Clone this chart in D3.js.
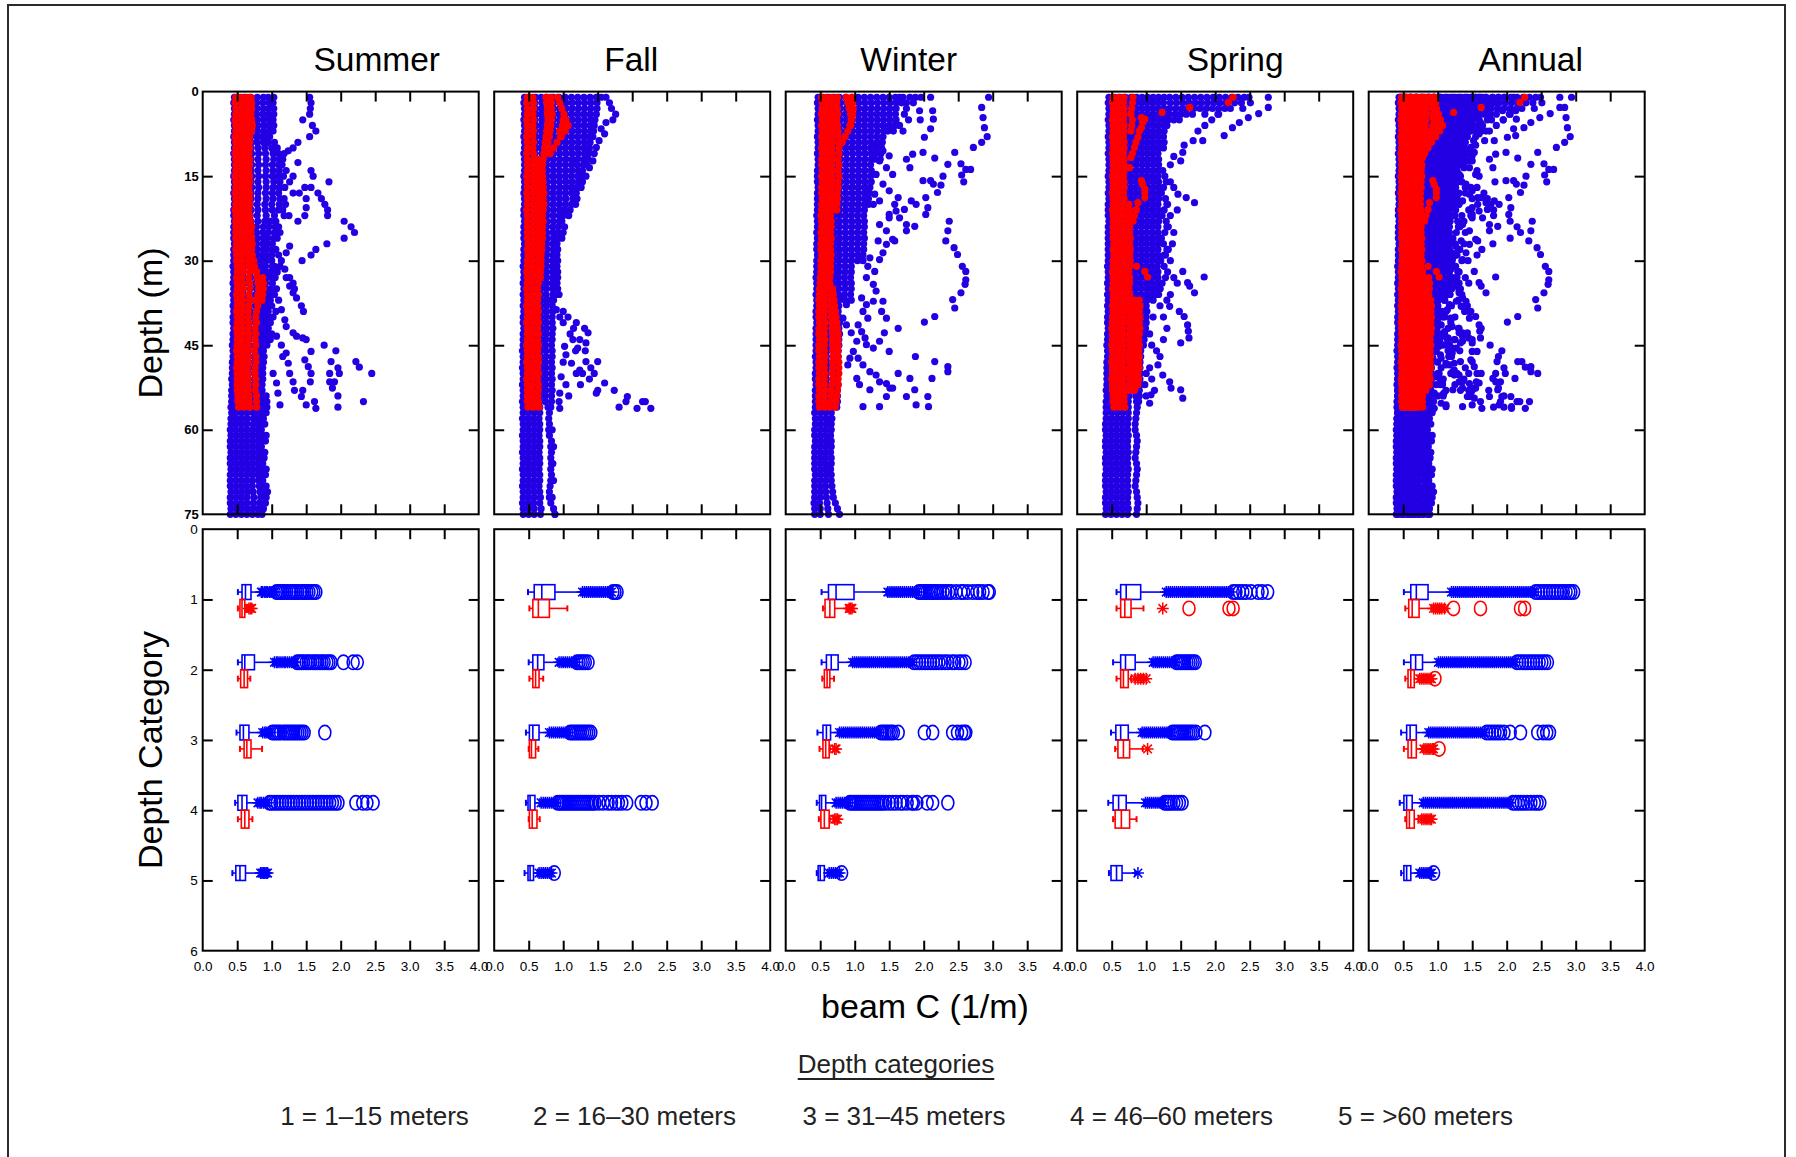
<!DOCTYPE html>
<html>
<head>
<meta charset="utf-8">
<script src="https://cdn.jsdelivr.net/npm/d3@7"></script>
<style>
  body { margin: 0; background: #fff; }
  text { font-family: "Liberation Sans", Arial, Helvetica, sans-serif; }
</style>
</head>
<body>
<svg id="chart" width="1796" height="1157"></svg>
<script>
// ---------------------------------------------------------------
// Labels and ticks
// ---------------------------------------------------------------
const seasons = ["Summer", "Fall", "Winter", "Spring", "Annual"];
const depthTicks = [0, 15, 30, 45, 60, 75];
const categoryTicks = [0, 1, 2, 3, 4, 5, 6];
const beamTicks = [0, 0.5, 1, 1.5, 2, 2.5, 3, 3.5, 4];
const legendItems = ["1 = 1\u201315 meters", "2 = 16\u201330 meters", "3 = 31\u201345 meters",
                     "4 = 46\u201360 meters", "5 = >60 meters"];

// ---------------------------------------------------------------
// Profile casts: [first depth (m), beam C x 100 at each metre below]
// Spots: [depth (m), beam C x 100]
// ---------------------------------------------------------------
const summerBlueCasts = [
  [1, [46,45,46,46,45,46,46,45,46,46,45,46,46,46,45,46,46,45,46,46,45,45,46,45,45,45,46,45,45,45,44,45,45,44,45,44,45,44,45,44,44,45,44,44,43,44,44,43,43,43,42,43,42,42,42,41,42,41,41,40,41,40,40,41,40,40,41,40,40,40,41,40,40,41,40]],
  [1, [52,53,53,52,53,54,53,52,53,53,52,53,53,52,53,52,53,53,52,52,53,52,53,52,52,53,52,53,52,52,52,51,52,52,51,52,52,51,52,51,52,51,51,52,51,50,51,50,51,50,50,50,49,50,49,49,48,49,48,48,49,48,48,49,48,48,49,48,48,48,49,48,48,49,48]],
  [1, [60,61,61,60,61,62,61,60,61,60,61,61,60,61,60,61,61,60,61,60,61,60,61,60,60,61,60,61,60,60,60,59,60,60,59,60,60,59,60,59,60,59,59,60,59,58,59,58,59,58,58,57,57,58,57,57,56,57,56,56,57,56,56,57,56,56,57,56,56,56,57,56,56,57,56]],
  [1, [69,70,70,69,70,71,70,69,70,70,71,70,71,70,71,70,71,70,70,69,70,69,70,69,69,70,69,70,69,69,68,69,69,68,69,68,69,68,69,68,68,67,68,67,67,66,67,66,67,66,66,65,65,66,65,65,64,65,64,64,65,64,64,65,64,64,65,64,64,64,65,64,64,65,64]],
  [1, [79,78,79,78,79,80,79,78,79,80,81,80,81,80,81,80,81,80,80,79,80,79,80,78,78,79,78,79,78,78,77,78,78,77,78,77,78,77,78,76,77,76,76,77,76,75,76,75,76,75,75,74,74,75,74,74,73,74,73,72,73,72,72,73,72,72,73,72,72,72,73,74,73,73,72]],
  [1, [88,87,88,87,88,89,88,86,88,90,91,92,91,92,91,92,92,91,92,90,91,92,90,88,87,88,87,88,86,86,85,86,86,85,86,85,86,84,85,84,84,83,84,83,83,82,83,82,83,82,82,81,81,82,81,81,80,81,80,80,81,80,80,81,80,80,81,80,81,82,83,84,82,81,80]],
  [1, [95,96,96,95,96,97,96,92,95,100,102,103,101,102,101,103,102,101,102,100,101,104,98,96,95,94,93,92,92,92,91,92,93,91,92,92,93,90,91,90,90,89,90,89,88,88,89,88,87,87,87,86,86,87,86,86,85,86,85,85,86,85,85,86,86,87,87,86,87,88,89,92,90,87,86]],
  [1, [103,102,103,103,102,103,102,97,104,108,110,112,110,111,109,112,111,110,112,111,110,118,106,105,104,103,101,100,100,100,101,99,100,101,99,100,98,96,95,96,94,95,95,94,93]]
];
const summerBlueSpots = [[1,155],[2,157],[3,156],[4,155],[5,145],[6,159],[7,164],[8,155],[9,138],[10,131],[10.5,124],[12,116],[12.6,138],[14,121],[14,157],[15,160],[16,183],[15,131],[16,126],[17,119],[17,148],[17,157],[18,131],[18,140],[18,167],[19,172],[20,177],[21,181],[22,181],[19,150],[20.6,150],[22,148],[23,138],[23,205],[24,215],[25,220],[26,205],[27,180],[28,164],[29,157],[30,144],[27.4,126],[28.6,121],[30,114],[31.5,119],[33,126],[34,131],[35,133],[36.6,136],[38,143],[39,146],[31,112],[33,121],[34.5,126],[35.7,131],[37,110],[38.7,114],[40.5,119],[41.7,121],[42,92],[43.4,97],[43.4,107],[42.8,131],[43.4,136],[43.7,145],[44,150],[45,114],[47,116],[46.1,157],[47.6,148],[48.8,153],[50,157],[51.5,156],[53,145],[54.1,143],[55.6,150],[55,162],[56.2,164],[50,102],[51.7,107],[53.5,109],[55.6,112],[46.4,121],[48.2,124],[50,126],[51.5,131],[53,133],[54.7,90],[56.2,88],[57,92],[45,176],[46,193],[47.9,186],[49,196],[50,198],[51.5,191],[52.6,188],[54,196],[56,196],[47.9,222],[48.9,227],[50,245],[55,233],[50,184],[51.5,184],[11,118],[13,115],[15,117],[17,112],[19,118],[20,120],[21,116],[22,125],[24,110],[25,112],[26,108],[28,106],[29,110],[31,104],[32,108],[33,105],[35,107],[36,104],[38,100],[39,106],[40,102],[41,98],[43,100],[44,98],[58,88],[59,90],[61,92],[62,91],[64,90],[65,89],[67,92],[68,91],[70,92],[71,94],[73,91],[74,88],[54,92],[55,93],[56,93]];
const summerRedCasts = [
  [1, [48,47,48,48,47,48,48,47,48,48,47,48,48,48,47,48,48,47,48,48,47,48,48,48,48,48,49,48,49,49,50,50,49,50,50,49,50,50,49,50,50,49,50,50,50,49,50,50,49,50,50,50,50,51,51,52]],
  [1, [55,56,56,55,56,57,56,55,56,56,55,56,56,55,56,56,55,56,56,56,55,56,56,56,55,56,57,56,57,57,58,58,57,58,58,57,58,58,57,57,58,57,58,57,58,57,58,58,57,58,58,58,58,59,59,60]],
  [1, [63,64,64,63,64,65,64,63,62,62,61,62,62,61,62,62,61,62,62,62,61,62,63,64,63,64,65,64,65,66,67,68,67,68,68,67,68,67,66,66,67,66,67,66,66,65,66,66,65,66,66,66,66,67,67,68]],
  [1, [70,71,71,70,71,72,71,68,68,68,67,68,68,67,68,68,67,68,68,68,67,68,69,71,70,71,72,71,72,74,75,78,80,82,84,85,86,80,78,77,78,76,77,76,77,75,77,77,76,76,77,77,76,78,78,78]]
];
const summerRedSpots = [[32,78],[33,79],[34,80],[35,81],[36,80],[37,77],[33,87],[34,88],[35,88],[36,87]];

const fallBlueCasts = [
  [1, [44,43,44,44,43,44,44,43,44,44,43,44,44,44,43,44,44,43,44,44,43,43,44,43,43,43,44,43,43,43,42,43,43,42,43,42,43,42,43,42,42,43,42,42,42,41,42,42,41,42,42,41,42,42,41,42,42,41,42,42,41,42,42,41,42,42,41,42,42,41,42,42,41,42,42]],
  [1, [52,51,52,52,51,52,52,51,52,52,51,52,52,52,51,52,52,51,52,52,51,51,52,51,51,51,52,51,51,51,50,51,51,50,51,50,51,50,51,50,50,51,50,50,50,49,50,50,49,50,50,49,50,50,49,50,50,49,50,50,49,50,50,49,50,50,49,50,50,49,50,50,49,50,50]],
  [1, [60,59,60,60,59,60,60,59,60,60,59,60,60,60,59,60,60,59,60,60,59,59,60,59,59,59,60,59,59,59,58,59,59,58,59,58,59,58,59,58,58,59,58,58,58,57,58,58,57,58,58,57,58,58,57,58,58,57,58,58,57,58,58,57,58,58,57,58,58,57,58,58,57,58,58]],
  [1, [68,69,69,68,69,68,69,68,69,68,69,69,68,69,68,69,69,68,69,68,69,68,69,68,68,69,68,69,68,68,67,68,68,67,68,67,68,67,68,67,67,68,67,67,66,67,67,66,67,66,67,66,67,66,66,66,66,65,66,66,65,66,66,65,66,66,65,66,66,65,66,67,66,68,67]],
  [1, [76,77,77,76,77,76,77,76,77,76,77,77,76,77,76,77,77,76,77,76,77,76,77,76,76,77,76,77,76,76,75,76,76,75,76,75,76,75,76,75,75,76,75,75,74,75,75,74,75,74,75,74,75,74,74,78,80,79,80,79,80,83,82,83,82,83,82,83,82,81,80,80,82,86,88]],
  [1, [85,86,86,85,86,85,86,85,86,85,86,86,85,86,85,86,86,85,86,85,86,85,86,85,85,86,85,86,85,85,84,85,85,84,85,85,86,84,85,84,84,85,84,84,83,84,84,83,84,83,84,83,84,83,83,82]],
  [1, [94,95,95,94,95,94,95,94,95,94,95,95,94,95,94,95,95,94,95,94,95,94,95,93,92,92,91,92,91,92,91,92,92,91,92,92]],
  [1, [103,104,104,103,104,103,104,103,104,103,104,104,103,104,103,104,104,103,104,103,102,100,98]],
  [1, [112,113,113,112,113,112,113,112,113,112,113,113,112,113,112,113,112,112,114,112,110]],
  [1, [121,122,122,121,122,121,122,121,122,121,122,121,120,122,121,122,120,119,118]],
  [1, [130,131,131,130,131,130,131,130,131,130,131,130,129,128,126,124]],
  [1, [139,140,140,139,140,139,140,138,139,138,137,136,134]],
  [1, [148,149,149,148,146,145,144,143]]
];
const fallBlueSpots = [[1,162],[2,167],[3,170],[4,176],[5,172],[5.5,162],[6.6,155],[7.5,160],[8.7,152],[9.9,148],[11,145],[12.3,143],[15,133],[16,128],[1,155],[1,150],[13.5,138],[17,126],[19,120],[20,118],[22,108],[24,102],[25,100],[26,98],[36,94],[37,80],[38.7,90],[40,107],[41,119],[42,131],[42.8,136],[44.6,133],[46,132],[47.9,133],[47.9,150],[50,145],[51.7,160],[53,150],[53,174],[54.1,193],[55,191],[56,181],[55,215],[55,219],[56.2,227],[56.2,207],[49.4,124],[50,128],[46.7,104],[48,100],[50.6,97],[53.5,95],[56.2,95],[55,94],[44,114],[45.5,121],[45.2,102],[48.2,112],[50,119],[40,95],[41,100],[43,110],[39,100],[42,115],[44,124],[46,118],[52,104],[54,108],[52,125],[51,138],[49,140],[53.5,148],[60,84],[63,86],[66,85],[69,86],[72,84],[75,88]];
const fallRedCasts = [
  [1, [48,47,48,48,47,48,48,47,48,48,47,48,48,48,47,48,48,47,48,48,47,48,48,48,48,48,49,48,49,48,48,47,48,48,47,48,48,47,48,48,47,48,48,48,47,48,48,47,48,48,47,48,48,48,48,49]],
  [1, [56,57,57,56,57,56,57,56,57,56,57,57,56,57,56,57,57,56,57,56,57,56,57,56,56,57,56,57,56,56,55,56,56,55,56,56,55,56,56,55,56,56,55,56,56,55,56,56,55,56,56,55,56,56,56,57]],
  [12, [63,63,64,64,65,64,65,65,64,65,65,64,65,64,65,65,64,65,64,64,63,63,64,63,64,63,63,64,63,64,63,64,63,64,63,64,64,63,64,63,64,64,63,64,65]],
  [1, [75,76,77,77,78,77,76,75,74,73,72,71,70,70,70,71,71,72,71,72,71,70,71,70,70,70,69,69,68,68,68,67,67]],
  [1, [82,83,83,84,83,82,81,80,78,76,74]],
  [1, [92,95,98,101,104,107,103,97,91,86,81]]
];
const fallRedSpots = [[7,100],[7,95],[6,99],[5,100],[8,96]];

const winterBlueCasts = [
  [1, [47,46,47,47,46,47,47,46,47,47,46,47,47,46,46,46,47,46,46,46,46,45,46,46,45,46,45,45,46,45,45,45,44,45,45,44,45,45,44,44,45,44,44,44,44,44,43,44,44,43,43,44,43,43,43,43,42,43,43,42,42,43,42,42,42,42,42,43,42,42,42,42,41,42,42]],
  [1, [54,55,55,54,55,54,55,54,55,54,55,55,54,55,54,55,54,54,55,54,54,53,54,54,53,54,53,53,54,53,53,53,52,53,53,52,53,53,52,52,53,52,52,52,52,52,51,52,52,51,51,52,51,51,51,51,50,51,51,50,50,51,50,50,50,50,50,51,50,50,50,50,49,50,50]],
  [1, [62,63,63,62,63,62,63,62,63,62,63,63,62,63,62,63,62,62,63,62,62,61,62,62,61,62,61,61,62,61,61,61,60,61,61,60,61,61,60,60,61,60,60,60,60,60,59,60,60,59,59,60,59,59,59,59,58,59,59,58,58,59,58,58,58,58,58,59,58,58,58,59,60,61,62]],
  [1, [70,71,71,70,71,70,71,70,71,70,71,71,70,71,70,71,70,70,71,70,70,69,70,70,69,70,69,69,70,69,69,69,68,69,69,68,69,69,68,69,70,69,70,70,70,70,69,70,70,69,69,70,69,69,68,67,66,67,66,66,65,66,66,65,66,66,65,66,66,67,68,69,72,75,78]],
  [1, [78,79,79,78,79,78,79,78,79,78,79,79,78,79,78,79,78,78,79,78,78,77,78,78,77,78,77,77,78,77,77,77,76,77,77,76,77,77,76,77,78,77,78,77,77,76,76,75,76,75,75,76,75,75,75,74]],
  [1, [87,88,88,87,88,87,88,87,88,87,88,88,87,88,87,88,87,87,88,87,87,86,87,87,86,87,86,86,87,86,86,86,85,86,86,85,86]],
  [1, [96,97,97,96,97,96,97,96,97,96,97,97,96,97,96,97,96,96,97,96,96,95,96,96,95,96,95,95,96,95,95,95,94,95,95,94,95]],
  [1, [105,106,106,105,106,105,106,105,106,105,106,106,105,106,105,106,105,105,106,105,105,104,105,105,104,105,104,104,105,104]],
  [1, [114,115,115,114,115,114,115,114,115,114,115,115,114,115,114,115,114,114,115,114,114,113,114,114,113,114,113,113,112,112]],
  [1, [123,124,124,123,124,123,124,123,124,123,124,124,123,124,123,124,122,121,120,120]],
  [1, [132,133,133,132,133,132,133,132,133,131,130,129]],
  [1, [141,142,142,141,142,141,142,141,140,139,138,137]],
  [1, [150,151,151,150,151,150,148]],
  [1, [159,160,160,159,160,158,156]]
];
const winterBlueSpots = [[1,294],[2.8,284],[4.6,286],[6.4,288],[8,292],[9,284],[9.9,272],[12.8,254],[13.8,261],[13.8,268],[14.8,255],[16,258],[15,228],[16.6,225],[17.9,220],[16.4,214],[10.8,245],[12.9,235],[11.8,216],[23,237],[24.7,235],[26.5,232],[27.7,244],[28.9,249],[31,256],[31.9,261],[33.4,261],[34.2,260],[35.7,254],[36.9,242],[38.4,245],[39.9,216],[40.9,201],[42,163],[46.1,150],[47,188],[47.9,216],[48.8,235],[49.7,235],[50.9,212],[50.9,180],[50,163],[54.1,175],[52.9,187],[55.6,189],[54.1,206],[55.9,207],[55.9,136],[55.9,112],[52.9,122],[54.1,146],[52.6,151],[1,196],[3.4,194],[5,195],[1,210],[3.4,213],[4.9,214],[6.6,210],[8.1,201],[10.8,199],[11.1,184],[12,175],[13.5,180],[15.8,199],[15.8,210],[18.8,203],[20.6,206],[21.8,203],[20,189],[19.4,182],[23.9,187],[23.6,175],[24.7,175],[22.4,165],[20,158],[21.8,150],[24.7,146],[26.2,155],[28.6,141],[1,165],[1,170],[2,168],[3,175],[4,172],[5,178],[1,180],[2,185],[6,165],[7,170],[1,188],[2,175],[22.4,150],[23.6,136],[26.5,134],[27.1,146],[26.5,158],[29.5,122],[29.8,136],[31,119],[31.9,129],[33,117],[34.2,127],[35.4,131],[36.6,110],[37.8,117],[39,112],[40.2,119],[41.4,105],[42.6,110],[43.7,115],[42.8,95],[44.3,103],[44.9,117],[45.5,127],[46.1,98],[47.3,105],[48.5,112],[49.7,122],[50.3,131],[51.5,136],[51.8,146],[52.6,155],[50.9,103],[52,107],[47.3,93],[48.5,90],[37.2,141],[39,139],[40.2,146],[42.8,143],[44.3,136],[37.2,127],[40.2,83],[37.8,88],[41.4,88],[36.6,80],[9.3,131],[10.5,141],[11.4,150],[12.3,136],[13.5,146],[14.7,131],[14.7,155],[16.4,141],[17.6,150],[18.8,163],[18.2,129],[19.4,136],[20,127],[20.9,172],[21.2,160]];
const winterRedCasts = [
  [1, [52,53,53,52,53,52,53,52,53,52,53,52,52,53,52,53,52,52,53,52,52,51,52,52,51,52,51,51,52,51,51,51,50,50,49,49,48,49,48,48,49,48,48,49,48,48,49,48,48,49,48,48,49,48,48,49]],
  [1, [59,60,60,59,60,59,60,59,60,59,60,60,59,60,59,60,59,59,60,59,59,58,59,59,58,59,58,58,59,58,58,58,57,57,56,56,56,57,56,56,57,56,56,57,56,56,57,56,56,57,56,56,57,56,56,57]],
  [1, [67,68,68,67,68,67,68,67,68,67,68,68,67,68,67,68,67,67,68,66,66,65,66,66,65,66,65,65,66,65,65,65,64,64,64,65,65,66,66,66,67,67,68,68,68,68,69,68,68,68,68,67,66,66,65,64]],
  [1, [75,74,75,75,74,75,76,76,77,77,77,76,77,76,77,76,76,75,75,74,74]],
  [35, [68,69,70,71,72,73,74,75,76,76,76,76,76,77,77,77,76,76,75,74,73,72]],
  [1, [88,90,92,94,95,93,90,86,82]],
  [1, [96,97,98,97,96,94]]
];
const winterRedSpots = [];

const springBlueCasts = [
  [1, [46,45,46,46,45,46,46,45,46,46,45,46,46,46,45,46,46,45,46,45,45,45,46,45,45,45,45,45,45,45,44,45,45,44,45,44,45,44,45,44,44,45,44,44,43,44,44,43,43,43,43,43,42,43,42,42,42,42,41,41,42,41,41,42,41,41,42,41,41,41,42,41,41,42,41]],
  [1, [54,53,54,54,53,54,54,53,54,54,53,54,54,54,53,54,54,53,54,53,53,53,54,53,53,53,53,53,53,53,52,53,53,52,53,52,53,52,53,52,52,53,52,52,51,52,52,51,51,51,51,51,50,51,50,50,50,50,49,49,50,49,49,50,49,49,50,49,49,49,50,49,49,50,49]],
  [1, [62,61,62,62,61,62,62,61,62,62,61,62,62,62,61,62,62,61,62,61,61,61,62,61,61,61,61,61,61,61,60,61,61,60,61,60,61,60,61,60,60,61,60,60,59,60,60,59,59,59,59,59,58,59,58,58,58,58,57,57,58,57,57,58,57,57,58,57,57,57,58,57,57,58,57]],
  [1, [70,69,70,70,69,70,70,69,70,70,69,70,70,70,69,70,70,69,70,69,69,69,70,69,69,69,69,69,69,69,68,69,69,68,69,68,69,68,69,68,68,69,68,68,67,68,68,67,67,67,67,67,66,67,66,66,66,66,65,65,66,65,65,66,65,65,66,65,65,65,66,65,65,66,65]],
  [1, [78,77,78,78,77,78,78,77,78,78,77,78,78,78,77,78,78,77,78,77,77,77,78,77,77,77,77,77,77,77,76,77,77,76,77,76,77,76,77,76,76,77,76,76,75,76,76,75,75,75,75,75,74,75,74,74,74,74,73,73,74,73,73,74,73,73,74,73,73,73,74,73,73,74,73]],
  [1, [86,85,86,86,85,86,86,85,86,86,85,86,86,86,85,86,86,85,86,85,85,85,86,85,85,85,85,85,85,85,84,85,85,84,85,84,85,84,85,84,84,85,84,84,83,84,84,83,83,83,83,83,82,85,86,87,86,85,84,84,86,87,86,85,84,86,87,86,85,84,86,87,88,87,86]],
  [1, [94,93,94,94,93,94,94,93,94,94,93,94,94,94,93,94,94,93,94,93,93,93,94,93,93,93,93,93,93,93,92,93,93,92,93,92,93,92,93,92,92,93,92,92,91,92,92,91,91,91,91,91,90,90,89]],
  [1, [102,101,102,102,101,102,102,101,102,102,101,102,102,102,101,102,102,101,102,101,101,101,102,101,101,101,101,101,101,101,100,101,101,100,101,100,101,100,101,100,100,99,98,97,96]],
  [1, [110,109,110,110,109,110,110,109,110,110,109,110,110,110,109,110,110,109,110,109,109,109,110,109,109,109,109,109,109,109,108,109,109,108,108,107]],
  [1, [118,117,118,118,117,118,118,117,118,118,117,118,118,118,117,118,118,117,118,117,117,117,118,117,117,117,117,117,117,117,116,117,117,116,115,114]],
  [1, [126,125,126,126,125,126,126,125,126,125]],
  [14, [124,127,129,125,122,128,131,126,123,129,132,127,122,125,130,126,121,126,131,128,123,120,118]],
  [1, [134,135,134,133,132,130]],
  [1, [143,144,143,142,140]],
  [1, [152,153,152,150,148]],
  [1, [161,162,160,158]],
  [1, [170,171,169,167]],
  [1, [179,180,178]],
  [1, [188,189,187,185]],
  [1, [197,198,196]],
  [1, [206,207,205,204]],
  [1, [215,216,214]]
];
const springBlueSpots = [[1,224],[1,233],[1,242],[1,249],[2,228],[2,238],[3,240],[1,277],[2.8,277],[3.9,263],[4.6,248],[5.5,235],[6.4,225],[7.8,213],[3,222],[4,205],[5,195],[6,185],[7,175],[8.7,182],[8.7,168],[9.5,155],[10.8,153],[12.3,150],[11.5,140],[13,135],[2,251],[18.2,146],[18.8,158],[19.7,170],[17,140],[16,135],[20,130],[22,135],[21,145],[25,140],[24,130],[27,138],[28,132],[29,128],[30,135],[31.9,153],[32.9,184],[33.9,160],[34.5,163],[35.7,170],[33,140],[34,145],[36,135],[37,130],[38.1,134],[39,148],[39.9,155],[41.4,160],[42.5,161],[43.7,162],[44.6,150],[38,120],[40,125],[42,130],[44,125],[46,115],[47,120],[48.5,117],[50.3,124],[51.5,134],[52.6,136],[52.9,150],[54.4,153],[53,112],[53.8,107],[55.3,105],[45,108],[49,105],[51,108],[54,100],[35,120],[37,110],[40,110],[43,105],[50,100],[52,98]];
const springRedCasts = [
  [1, [52,51,52,52,51,52,52,51,52,52,51,52,52,52,51,52,52,51,52,52,51,52,52,52,52,52,53,52,53,52,52,51,52,52,51,52,52,51,52,51,51,50,51,51,50,51,51,50,51,51,50,51,51,52,52,53]],
  [1, [60,59,60,60,59,60,60,59,60,60,59,60,60,60,59,60,60,59,60,60,59,60,60,60,60,60,61,60,61,60,60,59,60,60,59,60,60,59,60,59,59,58,59,59,58,59,59,58,59,59,58,59,59,60,60,61]],
  [1, [68,67,68,68,67,68,68,67,68,68,67,68,68,68,67,68,68,67,68,68,67,68,68,68,68,68,69,68,69,68,68,67,68,68,67,68,68,67,68,67,67,66,67,67,66,67,67,66,67,67,66,67,67,68,68,69]],
  [20, [75,76,76,75,76,76,77,76,77,76,77,76,75,76,76,75,76,76,75,76,76,75,76,76,75,76,76,75,76,76,75,76,76,75]],
  [37, [83,84,83,84,84,83,84,83,84,84,83,84,83,84,83,84,83]],
  [37, [90,91,90,91,90,91,90,89,90,89,90,89,90,88,89,88]]
];
const springRedSpots = [[1,81],[2,80],[3,79],[4,78],[4.6,93],[4.9,98],[5.5,95],[6.4,93],[7,90],[8.1,88],[9,85],[9.9,83],[11,80],[11.7,78],[13.5,76],[15.8,93],[16.5,95],[17.3,98],[18,98],[18.8,98],[19.7,88],[20.9,86],[22,83],[23,81],[3.7,123],[2.8,163],[1.9,219],[1,226],[31,86],[31.9,98],[32.9,102],[5,80],[6,79],[7,78]];

// ---------------------------------------------------------------
// Box plots by depth category: [category, series, low whisker, Q1, median, Q3, high whisker]
// Outliers: [category, series, values]
// ---------------------------------------------------------------
const summerBoxes = [
  [1,"b",0.51,0.57,0.62,0.70,0.83],[1,"r",0.51,0.54,0.57,0.61,0.63],
  [2,"b",0.51,0.57,0.61,0.75,1.02],[2,"r",0.51,0.55,0.60,0.65,0.69],
  [3,"b",0.49,0.54,0.59,0.67,0.85],[3,"r",0.54,0.60,0.64,0.70,0.86],
  [4,"b",0.47,0.51,0.57,0.64,0.78],[4,"r",0.51,0.56,0.61,0.67,0.72],
  [5,"b",0.43,0.48,0.54,0.62,0.83]
];
const summerStars = [
  [1,"b",[0.85,0.87,0.9,0.92,0.94,0.97,0.99,1.01,1.04]],
  [1,"r",[0.67,0.69,0.71]],
  [2,"b",[1.04,1.07,1.09,1.12,1.15,1.18,1.2,1.23,1.26,1.29,1.32,1.34]],
  [3,"b",[0.87,0.9,0.92,0.95,0.98]],
  [4,"b",[0.8,0.83,0.85,0.88,0.91,0.94]],
  [5,"b",[0.84,0.86,0.88,0.9,0.92,0.94]]
];
const summerRings = [
  [1,"b",[1.07,1.1,1.13,1.16,1.19,1.22,1.26,1.29,1.32,1.35,1.38,1.42,1.45,1.48,1.51,1.54,1.58,1.61,1.64]],
  [2,"b",[1.37,1.4,1.43,1.46,1.5,1.53,1.56,1.6,1.63,1.66,1.7,1.73,1.76,1.8,1.83,1.86,2.04,2.18,2.24]],
  [3,"b",[1.01,1.04,1.07,1.1,1.13,1.17,1.2,1.23,1.26,1.29,1.32,1.35,1.38,1.41,1.44,1.47,1.77]],
  [4,"b",[0.97,1.0,1.04,1.08,1.12,1.16,1.2,1.24,1.28,1.32,1.36,1.4,1.44,1.48,1.52,1.56,1.6,1.64,1.68,1.72,1.76,1.8,1.84,1.88,1.92,1.96,2.22,2.32,2.38,2.47]]
];

const fallBoxes = [
  [1,"b",0.49,0.58,0.69,0.88,1.26],[1,"r",0.51,0.56,0.64,0.80,1.06],
  [2,"b",0.50,0.56,0.63,0.72,0.92],[2,"r",0.51,0.56,0.60,0.65,0.71],
  [3,"b",0.46,0.51,0.56,0.65,0.78],[3,"r",0.50,0.51,0.54,0.60,0.64],
  [4,"b",0.46,0.49,0.52,0.59,0.66],[4,"r",0.50,0.51,0.55,0.62,0.66],
  [5,"b",0.44,0.49,0.52,0.57,0.63]
];
const fallStars = [
  [1,"b",[1.28,1.31,1.34,1.37,1.4,1.43,1.46,1.49,1.52,1.55,1.58,1.61,1.64,1.67,1.7]],
  [2,"b",[0.94,0.97,1.0,1.03,1.06,1.09,1.12,1.15,1.18]],
  [3,"b",[0.8,0.83,0.86,0.89,0.92,0.95,0.98,1.01,1.04,1.07]],
  [4,"b",[0.68,0.71,0.74,0.77,0.8,0.83,0.86,0.89]],
  [5,"b",[0.65,0.68,0.71,0.74,0.77,0.8,0.83]]
];
const fallRings = [
  [1,"b",[1.72,1.75,1.78]],
  [2,"b",[1.2,1.23,1.26,1.29,1.32,1.36]],
  [3,"b",[1.1,1.13,1.16,1.19,1.22,1.25,1.28,1.31,1.34,1.37,1.4]],
  [4,"b",[0.92,0.95,0.98,1.01,1.04,1.07,1.1,1.13,1.16,1.19,1.22,1.25,1.28,1.31,1.34,1.37,1.4,1.43,1.46,1.52,1.58,1.65,1.7,1.76,1.8,1.85,1.92,2.13,2.2,2.29]],
  [5,"b",[0.87]]
];

const winterBoxes = [
  [1,"b",0.52,0.62,0.73,0.99,1.46],[1,"r",0.54,0.57,0.64,0.71,0.88],
  [2,"b",0.52,0.59,0.66,0.76,0.95],[2,"r",0.53,0.56,0.60,0.64,0.70],
  [3,"b",0.46,0.54,0.59,0.65,0.76],[3,"r",0.49,0.54,0.58,0.63,0.64],
  [4,"b",0.45,0.49,0.52,0.58,0.71],[4,"r",0.48,0.51,0.56,0.63,0.64],
  [5,"b",0.45,0.47,0.50,0.56,0.61]
];
const winterStars = [
  [1,"b",[1.48,1.51,1.54,1.57,1.6,1.63,1.66,1.69,1.72,1.75,1.78,1.81,1.84,1.87,1.9]],
  [1,"r",[0.92,0.94,0.96]],
  [2,"b",[0.97,1.0,1.03,1.06,1.09,1.12,1.15,1.18,1.21,1.24,1.27,1.3,1.33,1.36,1.39,1.42,1.45,1.48,1.51,1.54,1.57,1.6,1.63,1.66,1.69,1.72,1.75,1.78,1.81,1.84]],
  [3,"b",[0.78,0.81,0.84,0.87,0.9,0.93,0.96,0.99,1.02,1.05,1.08,1.11,1.14,1.17,1.2,1.23,1.26,1.29,1.32,1.35]],
  [3,"r",[0.71,0.73]],
  [4,"b",[0.73,0.76,0.79,0.82,0.85,0.88,0.91]],
  [4,"r",[0.71,0.73,0.75]],
  [5,"b",[0.63,0.66,0.69,0.72,0.75,0.78]]
];
const winterRings = [
  [1,"b",[1.93,1.96,1.99,2.02,2.05,2.08,2.11,2.14,2.17,2.2,2.24,2.28,2.32,2.36,2.4,2.47,2.54,2.58,2.64,2.71,2.77,2.81,2.86,2.93,2.95]],
  [2,"b",[1.86,1.9,1.94,1.98,2.02,2.06,2.1,2.14,2.18,2.22,2.26,2.31,2.35,2.41,2.45,2.51,2.55,2.6]],
  [3,"b",[1.38,1.41,1.44,1.47,1.5,1.53,1.56,1.63,2.01,2.13,2.42,2.49,2.55,2.59,2.61]],
  [4,"b",[0.93,0.96,0.99,1.02,1.05,1.08,1.11,1.14,1.17,1.2,1.23,1.26,1.29,1.32,1.35,1.38,1.41,1.45,1.5,1.55,1.6,1.66,1.7,1.76,1.83,1.85,1.9,2.05,2.13,2.35]],
  [5,"b",[0.81]]
];

const springBoxes = [
  [1,"b",0.57,0.63,0.71,0.92,1.27],[1,"r",0.57,0.63,0.69,0.78,0.96],
  [2,"b",0.52,0.63,0.70,0.84,1.08],[2,"r",0.57,0.63,0.67,0.74,0.78],
  [3,"b",0.49,0.56,0.63,0.74,0.92],[3,"r",0.55,0.59,0.67,0.76,0.95],
  [4,"b",0.45,0.52,0.60,0.71,0.97],[4,"r",0.52,0.55,0.64,0.76,0.86],
  [5,"b",0.46,0.49,0.57,0.65,0.84]
];
const springStars = [
  [1,"b",[1.29,1.32,1.35,1.38,1.41,1.44,1.47,1.5,1.53,1.56,1.59,1.62,1.65,1.68,1.71,1.74,1.77,1.8,1.83,1.86,1.89,1.92,1.95,1.98,2.01,2.04,2.07,2.1,2.13,2.16,2.19,2.22]],
  [1,"r",[1.24]],
  [2,"b",[1.1,1.13,1.16,1.19,1.22,1.25,1.28,1.31,1.34,1.37,1.4,1.42]],
  [2,"r",[0.84,0.88,0.92,0.96,1.0]],
  [3,"b",[0.94,0.97,1.0,1.03,1.06,1.09,1.12,1.15,1.18,1.21,1.24,1.27,1.3,1.33,1.36]],
  [3,"r",[1.02]],
  [4,"b",[0.99,1.02,1.05,1.08,1.11,1.14,1.17,1.2,1.23,1.25]],
  [5,"b",[0.88]]
];
const springRings = [
  [1,"b",[2.26,2.3,2.35,2.4,2.45,2.52,2.62,2.68,2.76]],
  [1,"r",[1.62,2.2,2.26]],
  [2,"b",[1.44,1.47,1.5,1.53,1.56,1.59,1.62,1.65,1.68,1.71]],
  [3,"b",[1.38,1.41,1.44,1.47,1.5,1.53,1.56,1.59,1.62,1.65,1.68,1.72,1.85]],
  [4,"b",[1.27,1.3,1.33,1.36,1.4,1.44,1.48,1.52]]
];

const annualBoxes = [
  [1,"b",0.51,0.61,0.69,0.86,1.18],[1,"r",0.53,0.58,0.63,0.73,0.91],
  [2,"b",0.51,0.61,0.68,0.78,0.99],[2,"r",0.53,0.57,0.61,0.66,0.72],
  [3,"b",0.47,0.55,0.60,0.69,0.85],[3,"r",0.51,0.57,0.62,0.69,0.77],
  [4,"b",0.45,0.51,0.55,0.63,0.77],[4,"r",0.53,0.55,0.59,0.66,0.72],
  [5,"b",0.47,0.51,0.55,0.61,0.72]
];
const annualStars = [
  [1,"b",[1.2,1.23,1.26,1.29,1.32,1.35,1.38,1.41,1.44,1.47,1.5,1.53,1.56,1.59,1.62,1.65,1.68,1.71,1.74,1.77,1.8,1.83,1.86,1.89,1.92,1.95,1.98,2.01,2.04,2.07,2.1,2.13,2.16,2.19,2.22,2.25,2.28,2.31,2.34,2.37,2.4]],
  [1,"r",[0.94,0.97,1.0,1.03,1.06,1.1]],
  [2,"b",[1.01,1.04,1.07,1.1,1.13,1.16,1.19,1.22,1.25,1.28,1.31,1.34,1.37,1.4,1.43,1.46,1.49,1.52,1.55,1.58,1.61,1.64,1.67,1.7,1.73,1.76,1.79,1.82,1.85,1.88,1.91,1.94,1.97,2.0,2.03,2.06,2.09,2.12]],
  [2,"r",[0.74,0.77,0.8,0.83,0.86,0.89,0.91]],
  [3,"b",[0.87,0.9,0.93,0.96,0.99,1.02,1.05,1.08,1.11,1.14,1.17,1.2,1.23,1.26,1.29,1.32,1.35,1.38,1.41,1.44,1.47,1.5,1.53,1.56,1.59,1.62,1.65,1.68]],
  [3,"r",[0.8,0.83,0.86,0.89,0.92,0.94]],
  [4,"b",[0.79,0.82,0.85,0.88,0.91,0.94,0.97,1.0,1.03,1.06,1.09,1.12,1.15,1.18,1.21,1.24,1.27,1.3,1.33,1.36,1.39,1.42,1.45,1.48,1.51,1.54,1.57,1.6,1.63,1.66,1.69,1.72,1.75,1.78,1.81,1.84,1.87,1.9,1.93,1.96,1.99,2.02,2.05]],
  [4,"r",[0.77,0.8,0.83,0.86,0.89,0.91]],
  [5,"b",[0.74,0.77,0.8,0.83,0.86,0.89,0.91]]
];
const annualRings = [
  [1,"b",[2.42,2.46,2.5,2.54,2.58,2.62,2.66,2.7,2.74,2.78,2.82,2.86,2.9,2.93,2.97]],
  [1,"r",[1.23,1.62,2.2,2.26]],
  [2,"b",[2.15,2.19,2.23,2.27,2.31,2.35,2.39,2.43,2.47,2.51,2.55,2.59]],
  [2,"r",[0.96]],
  [3,"b",[1.71,1.75,1.79,1.83,1.87,1.91,1.96,2.05,2.2,2.45,2.53,2.58,2.62]],
  [3,"r",[1.02]],
  [4,"b",[2.09,2.13,2.17,2.21,2.25,2.3,2.35,2.4,2.44,2.48]],
  [5,"b",[0.94]]
];

// ---------------------------------------------------------------
// Layout
// ---------------------------------------------------------------
const svg = d3.select("#chart");
const panelW = 276, panelLeft0 = 202.7, panelStep = 291.5;
const titleShift = [36, -1, -15, 20, 24];
const yTop = d3.scaleLinear().domain([0, 75]).range([91.6, 514.3]);
const yBot = d3.scaleLinear().domain([0, 6]).range([529.2, 950.7]);
const innerTicks = [0.5, 1, 1.5, 2, 2.5, 3, 3.5];
const dotBlue = "#2300e4", dotRed = "#ff0000";
const boxColor = { b: "#0000ff", r: "#ff0000" };
// vertical extent of each series' box, in category units relative to the category line
const boxBand = { b: [-0.21, 0], r: [0, 0.255] };
const labelFont = "Liberation Sans, Arial, sans-serif";

// outer border
svg.append("rect").attr("x", 8).attr("y", 5).attr("width", 1777).attr("height", 1190)
  .attr("fill", "none").attr("stroke", "#2b2b2b").attr("stroke-width", 2);

function castPoints(casts) {
  return casts.flatMap(([top, vals]) => vals.map((v, i) => ({ d: top + i, v: v / 100 })))
              .filter(p => p.d <= 75);
}
function spotPoints(spots) { return spots.map(([d, v]) => ({ d, v: v / 100 })); }

const bluePoints = [
  castPoints(summerBlueCasts).concat(spotPoints(summerBlueSpots)),
  castPoints(fallBlueCasts).concat(spotPoints(fallBlueSpots)),
  castPoints(winterBlueCasts).concat(spotPoints(winterBlueSpots)),
  castPoints(springBlueCasts).concat(spotPoints(springBlueSpots))
];
const redPoints = [
  castPoints(summerRedCasts).concat(spotPoints(summerRedSpots)),
  castPoints(fallRedCasts).concat(spotPoints(fallRedSpots)),
  castPoints(winterRedCasts).concat(spotPoints(winterRedSpots)),
  castPoints(springRedCasts).concat(spotPoints(springRedSpots))
];
// the annual panel pools every season
bluePoints.push(bluePoints.flat());
redPoints.push(redPoints.flat());

const boxSets = [summerBoxes, fallBoxes, winterBoxes, springBoxes, annualBoxes];
const starSets = [summerStars, fallStars, winterStars, springStars, annualStars];
const ringSets = [summerRings, fallRings, winterRings, springRings, annualRings];

const starPath = "M-6,0H6M0,-6V6M-4.3,-4.3L4.3,4.3M-4.3,4.3L4.3,-4.3";

function frameAndTicks(g, x, y, left, yTickVals) {
  const [y0, y1] = y.range();
  const style = sel => {
    sel.select(".domain").remove();
    sel.selectAll(".tick line").attr("stroke", "#000").attr("stroke-width", 2);
  };
  g.append("g").attr("transform", `translate(0,${y0})`)
    .call(d3.axisTop(x).tickValues(innerTicks).tickSize(-10).tickFormat("")).call(style);
  g.append("g").attr("transform", `translate(0,${y1})`)
    .call(d3.axisBottom(x).tickValues(innerTicks).tickSize(-10).tickFormat("")).call(style);
  g.append("g").attr("transform", `translate(${left},0)`)
    .call(d3.axisLeft(y).tickValues(yTickVals).tickSize(-10).tickFormat("")).call(style);
  g.append("g").attr("transform", `translate(${left + panelW},0)`)
    .call(d3.axisRight(y).tickValues(yTickVals).tickSize(-10).tickFormat("")).call(style);
  g.append("rect").attr("x", left).attr("y", y0).attr("width", panelW).attr("height", y1 - y0)
    .attr("fill", "none").attr("stroke", "#000").attr("stroke-width", 2);
}

seasons.forEach((season, i) => {
  const left = panelLeft0 + i * panelStep;
  const x = d3.scaleLinear().domain([0, 4]).range([left, left + panelW]);
  const g = svg.append("g").attr("class", "season");

  // title
  g.append("text").attr("x", left + panelW / 2 + titleShift[i]).attr("y", 70.5)
    .attr("text-anchor", "middle").attr("font-size", 33.5).text(season);

  // depth profiles
  const sg = g.append("g");
  sg.selectAll("circle.blue").data(bluePoints[i]).join("circle").attr("class", "blue")
    .attr("cx", d => x(d.v)).attr("cy", d => yTop(d.d)).attr("r", 3.6).attr("fill", dotBlue);
  sg.selectAll("circle.red").data(redPoints[i]).join("circle").attr("class", "red")
    .attr("cx", d => x(d.v)).attr("cy", d => yTop(d.d)).attr("r", 3.6).attr("fill", dotRed);
  frameAndTicks(g, x, yTop, left, [15, 30, 45, 60]);

  // box plots by depth category
  const bg = g.append("g").attr("fill", "none").attr("stroke-width", 1.6);
  ["b", "r"].forEach(series => {
    const col = boxColor[series];
    const mid = c => yBot(c + (boxBand[series][0] + boxBand[series][1]) / 2);
    starSets[i].filter(s => s[1] === series).forEach(([c, , vals]) => {
      bg.selectAll(null).data(vals).join("path")
        .attr("transform", v => `translate(${x(v)},${mid(c)})`).attr("d", starPath)
        .attr("stroke", col).attr("stroke-width", 1.5);
    });
    ringSets[i].filter(s => s[1] === series).forEach(([c, , vals]) => {
      bg.selectAll(null).data(vals).join("ellipse")
        .attr("cx", v => x(v)).attr("cy", mid(c)).attr("rx", 6).attr("ry", 7.2)
        .attr("stroke", col).attr("stroke-width", 1.6);
    });
    boxSets[i].filter(b => b[1] === series).forEach(([c, , lo, q1, med, q3, hi]) => {
      const yA = yBot(c + boxBand[series][0]), yB = yBot(c + boxBand[series][1]), ym = mid(c);
      bg.append("line").attr("x1", x(lo)).attr("x2", x(q1)).attr("y1", ym).attr("y2", ym).attr("stroke", col);
      bg.append("line").attr("x1", x(q3)).attr("x2", x(hi)).attr("y1", ym).attr("y2", ym).attr("stroke", col);
      [lo, hi].forEach(w => bg.append("line").attr("x1", x(w)).attr("x2", x(w))
        .attr("y1", ym - 3).attr("y2", ym + 3).attr("stroke", col).attr("stroke-width", 2));
      bg.append("rect").attr("x", x(q1)).attr("y", yA).attr("width", x(q3) - x(q1)).attr("height", yB - yA)
        .attr("stroke", col);
      bg.append("line").attr("x1", x(med)).attr("x2", x(med)).attr("y1", yA).attr("y2", yB).attr("stroke", col);
    });
  });
  frameAndTicks(g, x, yBot, left, [1, 2, 3, 4, 5]);

  // beam C tick labels
  g.append("g").attr("transform", `translate(0,${yBot(6)})`)
    .call(d3.axisBottom(x).tickValues(beamTicks).tickSize(0).tickPadding(11).tickFormat(d3.format(".1f")))
    .call(a => { a.select(".domain").remove(); a.selectAll("text").attr("font-size", 13.5).attr("fill", "#000")
      .attr("font-family", labelFont); });

  if (i === 0) {
    g.append("g").attr("transform", `translate(${left},0)`)
      .call(d3.axisLeft(yTop).tickValues(depthTicks).tickSize(0).tickPadding(4).tickFormat(d3.format("d")))
      .call(a => { a.select(".domain").remove(); a.selectAll("text").attr("font-size", 13)
        .attr("font-weight", "bold").attr("fill", "#000").attr("font-family", labelFont); });
    g.append("g").attr("transform", `translate(${left},0)`)
      .call(d3.axisLeft(yBot).tickValues(categoryTicks).tickSize(0).tickPadding(5).tickFormat(d3.format("d")))
      .call(a => { a.select(".domain").remove(); a.selectAll("text").attr("font-size", 13.5)
        .attr("fill", "#000").attr("font-family", labelFont); });
  }
});

// axis titles
svg.append("text").attr("transform", "translate(162,323) rotate(-90)")
  .attr("text-anchor", "middle").attr("font-size", 34).text("Depth (m)");
svg.append("text").attr("transform", "translate(162,750) rotate(-90)")
  .attr("text-anchor", "middle").attr("font-size", 34).text("Depth Category");
svg.append("text").attr("x", 925).attr("y", 1018).attr("text-anchor", "middle")
  .attr("font-size", 34).text("beam C (1/m)");

// depth category key
const keyTitle = svg.append("text").attr("x", 896).attr("y", 1073).attr("text-anchor", "middle")
  .attr("font-size", 26).attr("fill", "#222").text("Depth categories");
const kw = keyTitle.node().getComputedTextLength();
svg.append("line").attr("x1", 896 - kw / 2).attr("x2", 896 + kw / 2).attr("y1", 1079).attr("y2", 1079)
  .attr("stroke", "#222").attr("stroke-width", 1.8);
const legendX = [374.5, 634.5, 904, 1171.5, 1425.5];
svg.selectAll("text.key").data(legendItems).join("text").attr("class", "key")
  .attr("x", (d, i) => legendX[i]).attr("y", 1125).attr("text-anchor", "middle")
  .attr("font-size", 26).attr("fill", "#222").text(d => d);
</script>
</body>
</html>
